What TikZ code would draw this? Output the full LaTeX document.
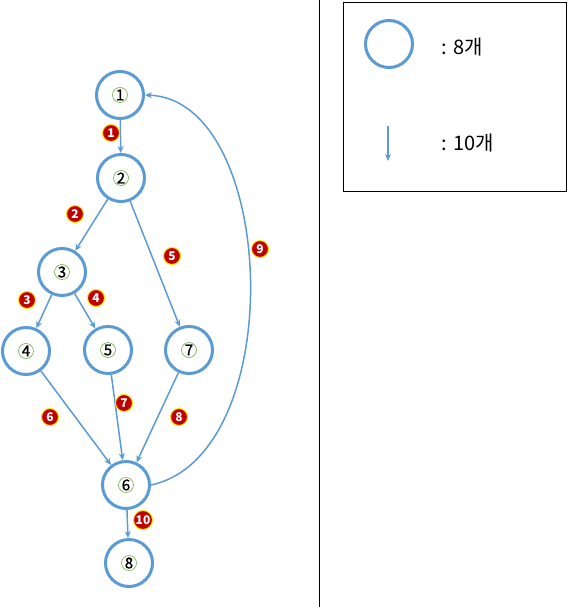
\documentclass[tikz,border=0pt]{standalone}
\usepackage{fontspec}
\setmainfont{Noto Sans CJK KR}
\newfontfamily\numfont[FakeBold=1.2]{Noto Sans CJK KR}
\usetikzlibrary{arrows.meta}
\definecolor{nblue}{RGB}{91,155,213}
\definecolor{bred}{RGB}{192,0,0}
\definecolor{cgreen}{RGB}{112,173,71}
\tikzset{
  vtx/.style={circle,draw=nblue,line width=3pt,minimum size=47pt,inner sep=0pt,font=\numfont\fontsize{15}{15}\selectfont},
  edge/.style={draw=nblue,line width=1.5pt,-{Stealth[length=7pt,width=6pt]}},
  badge/.style={circle,fill=bred,draw=yellow!90!orange,line width=1pt,minimum size=17pt,inner sep=0pt,text=white,font=\fontsize{12}{12}\selectfont\bfseries},
}
\newcommand{\cnum}[1]{\tikz[baseline=(c.base)]\node[circle,draw=cgreen,line width=0.6pt,minimum size=15pt,inner sep=0pt](c){#1};}
\begin{document}
\begin{tikzpicture}[x=1pt,y=-1pt]
\useasboundingbox (0,0) rectangle (567,607);
% graph nodes
\node[vtx] (n1) at (120,95) {\cnum{1}};
\node[vtx] (n2) at (121,178) {\cnum{2}};
\node[vtx] (n3) at (62,272) {\cnum{3}};
\node[vtx] (n4) at (26,351) {\cnum{4}};
\node[vtx] (n5) at (108,350) {\cnum{5}};
\node[vtx] (n7) at (189,350) {\cnum{7}};
\node[vtx] (n6) at (126,485) {\cnum{6}};
\node[vtx] (n8) at (129,563) {\cnum{8}};
% edges
\draw[edge] (n1) -- (n2);
\draw[edge] (n2) -- (n3);
\draw[edge] (n2) -- (n7);
\draw[edge] (n3) -- (n4);
\draw[edge] (n3) -- (n5);
\draw[edge] (n4) -- (n6);
\draw[edge] (n5) -- (n6);
\draw[edge] (n7) -- (n6);
\draw[edge] (n6) -- (n8);
\draw[edge] (n6.east) .. controls (290,455) and (278,100) .. (n1.east);
% badges
\node[badge] (b1) at (111,133) {1};
\node[badge] (b2) at (75,214) {2};
\node[badge] (b5) at (172,256) {5};
\node[badge] (b9) at (260,249) {9};
\node[badge] (b3) at (27,300) {3};
\node[badge] (b4) at (96,298) {4};
\node[badge] (b6) at (50,417) {6};
\node[badge] (b7) at (124,403) {7};
\node[badge] (b8) at (179,417) {8};
\node[badge,minimum size=19pt] (b10) at (143,520) {10};
% divider
\coordinate (dtop) at (319,0);
\coordinate (dbot) at (319,607);
\draw[line width=0.8pt] (dtop) -- (dbot);
% legend
\node[draw,line width=0.8pt,minimum width=223pt,minimum height=189pt,anchor=north west,inner sep=0pt] (lbox) at (343,2) {};
\node[circle,draw=nblue,line width=3pt,minimum size=47pt,inner sep=0pt] (lc) at (389,44) {};
\node[anchor=west,font=\fontsize{20}{20}\selectfont] (lt1) at (438,47) {: 8개};
\coordinate (la1) at (388,126);
\coordinate (la2) at (388,161);
\draw[draw=nblue,line width=1.5pt,-{Stealth[length=7pt,width=6pt]}] (la1) -- (la2);
\node[anchor=west,font=\fontsize{20}{20}\selectfont] (lt2) at (438,143) {: 10개};
\end{tikzpicture}
\end{document}
